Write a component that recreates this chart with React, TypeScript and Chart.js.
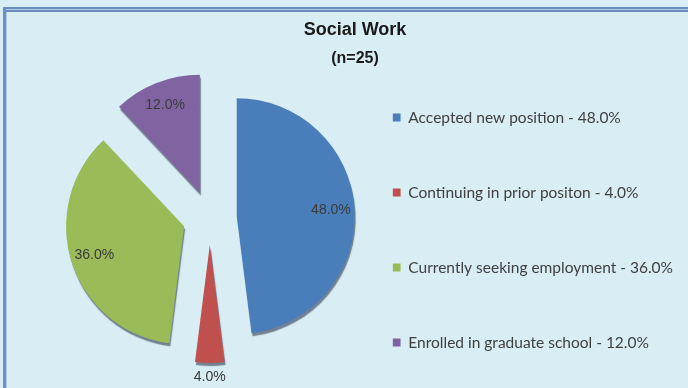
import React, { useEffect, useRef } from 'react';
import { Chart, registerables, PieController } from 'chart.js';

Chart.register(...registerables);

// ---- data ----
const categories: string[] = [
  'Accepted new position',
  'Continuing in prior positon',
  'Currently seeking employment',
  'Enrolled in graduate school',
];
const percentages: number[] = [48.0, 4.0, 36.0, 12.0];
const sliceColors: string[] = ['#4a7ebb', '#c0504d', '#9bbb59', '#8064a2'];
const chartTitle = 'Social Work';
const chartSubtitle = '(n=25)';

// ---- style constants ----
const NARROW = "'Liberation Sans Narrow', 'Arial Narrow', 'Liberation Sans', Arial, sans-serif";
const LEGEND_FONT = "Lato, 'Open Sans', 'DejaVu Sans', sans-serif";
const EXPLODE = 27;

// Pie controller that explodes every slice by a fixed distance along its bisector
class ExplodedPieController extends PieController {
  static id = 'explodedPie';
  draw() {
    const chart = this.chart;
    const ctx = chart.ctx;
    const meta = this._cachedMeta;
    ctx.save();
    ctx.shadowColor = 'rgba(30,40,60,0.55)';
    ctx.shadowOffsetX = 1;
    ctx.shadowOffsetY = 3;
    ctx.shadowBlur = 1;
    meta.data.forEach((arc: any) => {
      const mid = (arc.startAngle + arc.endAngle) / 2;
      ctx.save();
      ctx.translate(Math.cos(mid) * EXPLODE, Math.sin(mid) * EXPLODE);
      arc.draw(ctx, chart.chartArea);
      ctx.restore();
    });
    ctx.restore();
  }
}
Chart.register(ExplodedPieController);

const sliceLabels = {
  id: 'sliceLabels',
  afterDatasetsDraw(chart: any) {
    const ctx = chart.ctx;
    const meta = chart.getDatasetMeta(0);
    const values = chart.data.datasets[0].data as number[];
    ctx.save();
    ctx.font = `14px ${NARROW}`;
    ctx.fillStyle = '#3a3a3a';
    ctx.textAlign = 'center';
    ctx.textBaseline = 'middle';
    meta.data.forEach((arc: any, i: number) => {
      const mid = (arc.startAngle + arc.endAngle) / 2;
      const v = values[i];
      const f = v < 5 ? 1.12 : 0.8;
      const d = EXPLODE + f * arc.outerRadius;
      ctx.fillText(`${v.toFixed(1)}%`, arc.x + Math.cos(mid) * d, arc.y + Math.sin(mid) * d);
    });
    ctx.restore();
  },
};

export default function App() {
  const canvasRef = useRef<HTMLCanvasElement | null>(null);

  useEffect(() => {
    document.body.style.margin = '0';
    const canvas = canvasRef.current;
    if (!canvas) return;
    const chart = new Chart(canvas, {
      type: 'explodedPie' as any,
      data: {
        labels: categories,
        datasets: [
          {
            data: percentages,
            backgroundColor: sliceColors,
            borderWidth: 0,
            radius: 118,
            clip: false,
          } as any,
        ],
      },
      options: {
        animation: false,
        responsive: true,
        maintainAspectRatio: false,
        layout: { padding: { left: 27, right: 5, top: 0, bottom: 23 } },
        plugins: {
          tooltip: { enabled: false },
          title: {
            display: true,
            text: chartTitle,
            color: '#1a1a1a',
            font: { family: NARROW, size: 18, weight: 'bold', lineHeight: 1.2 },
            padding: { top: 19, bottom: 8 },
          },
          subtitle: {
            display: true,
            text: chartSubtitle,
            color: '#1a1a1a',
            font: { family: NARROW, size: 16, weight: 'bold', lineHeight: 1.2 },
            padding: { top: 0, bottom: 3 },
          },
          legend: {
            display: true,
            position: 'right',
            align: 'start',
            fullSize: false,
            title: {
              display: true,
              text: ' ',
              font: { size: 10, lineHeight: '19px' },
              padding: 10,
            },
            labels: {
              boxWidth: 8,
              boxHeight: 8,
              padding: 0,
              color: '#404040',
              font: { family: LEGEND_FONT, size: 15.5, lineHeight: '75px' },
              generateLabels: (c: any) => {
                const labels = c.data.labels as string[];
                const vals = c.data.datasets[0].data as number[];
                return labels.map((lab, i) => {
                  const t = `${lab} - ${vals[i].toFixed(1)}%`;
                  return {
                    text: i < labels.length - 1 ? [t] : t,
                    fillStyle: sliceColors[i],
                    strokeStyle: sliceColors[i],
                    lineWidth: 0,
                    fontColor: '#404040',
                    hidden: false,
                    index: i,
                  };
                });
              },
            },
          },
        },
      } as any,
      plugins: [sliceLabels],
    });
    return () => chart.destroy();
  }, []);

  return (
    <div
      style={{
        position: 'fixed',
        left: 0,
        top: 0,
        width: 688,
        height: 388,
        background: '#d9edf4',
        overflow: 'hidden',
      }}
    >
      <div style={{ position: 'absolute', left: 3, top: 7, right: 0, height: 2, background: '#6a8cc0' }} />
      <div style={{ position: 'absolute', left: 3, top: 9, right: 0, height: 1, background: '#b4c8e2' }} />
      <div style={{ position: 'absolute', left: 3, top: 10, right: 0, height: 2, background: '#6a8cc0' }} />
      <div style={{ position: 'absolute', left: 3, top: 7, bottom: 0, width: 3, background: '#6f90c2' }} />
      <div style={{ position: 'absolute', left: 6, top: 12, bottom: 0, width: 1, background: '#b4c8e2' }} />
      <div style={{ position: 'absolute', left: 0, top: 0, width: 688, height: 388 }}>
        <canvas ref={canvasRef} />
      </div>
    </div>
  );
}
